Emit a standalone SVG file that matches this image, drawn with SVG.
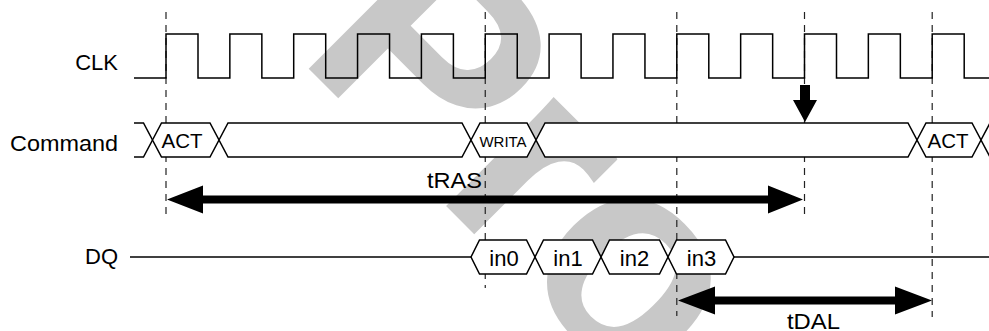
<svg xmlns="http://www.w3.org/2000/svg" width="989" height="331" viewBox="0 0 989 331">
<defs>
<style>
.lbl{font-family:"Liberation Sans",Arial,sans-serif;font-size:22px;fill:#000}
.sig{fill:none;stroke:#000;stroke-width:1.5}
.bus{fill:#fff;stroke:#000;stroke-width:1.5;stroke-linejoin:miter}
.grid{stroke:#222;stroke-width:1.2;stroke-dasharray:7 6;fill:none}
.wm{font-family:"Liberation Sans",Arial,sans-serif;font-weight:bold;font-size:290px;fill:#c8c8c8}
.arr{fill:#000;stroke:none}
</style>
</defs>
<rect width="989" height="331" fill="#fff"/>
<g id="watermark">
<text class="wm" transform="translate(295,55) rotate(45)">Pro</text>
</g>
<g id="gridlines">
<line class="grid" x1="166" y1="12" x2="166" y2="217"/>
<line class="grid" x1="485.25" y1="12" x2="485.25" y2="288"/>
<line class="grid" x1="676.8" y1="12" x2="676.8" y2="316"/>
<line class="grid" x1="804.5" y1="12" x2="804.5" y2="220"/>
<line class="grid" x1="932.2" y1="12" x2="932.2" y2="317"/>
</g>
<g id="clk">
<text class="lbl" x="118" y="70" text-anchor="end">CLK</text>
<path class="sig" d="M134,78 H166 V34 H198 V78 H229.85 V34 H261.85 V78 H293.7 V34 H325.7 V78 H357.55 V34 H389.55 V78 H421.4 V34 H453.4 V78 H485.25 V34 H517.25 V78 H549.1 V34 H581.1 V78 H612.95 V34 H644.95 V78 H676.8 V34 H708.8 V78 H740.65 V34 H772.65 V78 H804.5 V34 H836.5 V78 H868.35 V34 H900.35 V78 H932.2 V34 H964.2 V78 H995"/>
</g>
<g id="command">
<text class="lbl" x="118" y="151" text-anchor="end" textLength="108" lengthAdjust="spacingAndGlyphs">Command</text>
<path class="bus" d="M134,123 H143.5 L152.5,140 L143.5,157 H134"/>
<polygon class="bus" points="152.5,140 161.5,123 210,123 219,140 210,157 161.5,157"/>
<polygon class="bus" points="219,140 228,123 462,123 471,140 462,157 228,157"/>
<polygon class="bus" points="471,140 480,123 527,123 536,140 527,157 480,157"/>
<polygon class="bus" points="536,140 545,123 908,123 917,140 908,157 545,157"/>
<polygon class="bus" points="917,140 926,123 972,123 981,140 972,157 926,157"/>
<path class="bus" d="M995,123 H990 L981,140 L990,157 H995"/>
<text class="lbl" x="182" y="148" text-anchor="middle" font-size="20.5" style="font-size:20.5px">ACT</text>
<text class="lbl" x="503" y="147" text-anchor="middle" style="font-size:15px">WRITA</text>
<text class="lbl" x="948" y="148" text-anchor="middle" style="font-size:20.5px">ACT</text>
</g>
<g id="dq">
<text class="lbl" x="118" y="264" text-anchor="end">DQ</text>
<line class="sig" x1="130" y1="257" x2="471" y2="257" style="stroke-width:1.3"/>
<line class="sig" x1="734" y1="257" x2="995" y2="257" style="stroke-width:1.3"/>
<polygon class="bus" points="471,257 479.5,240 526.5,240 535,257 526.5,274 479.5,274"/>
<polygon class="bus" points="535,257 543.5,240 592.5,240 601,257 592.5,274 543.5,274"/>
<polygon class="bus" points="601,257 609.5,240 659.5,240 668,257 659.5,274 609.5,274"/>
<polygon class="bus" points="668,257 676.5,240 725.5,240 734,257 725.5,274 676.5,274"/>
<text class="lbl" x="504" y="266" text-anchor="middle">in0</text>
<text class="lbl" x="568" y="266" text-anchor="middle">in1</text>
<text class="lbl" x="634.5" y="266" text-anchor="middle">in2</text>
<text class="lbl" x="701.5" y="266" text-anchor="middle">in3</text>
</g>
<g id="connectors">
<g id="tRAS">
<path class="arr" d="M167,199.5 L203,185.5 L203,195.5 L768,195.5 L768,185.5 L803,199.5 L768,213.5 L768,203.5 L203,203.5 L203,213.5 Z"/>
<text class="lbl" x="427" y="188" textLength="55" lengthAdjust="spacingAndGlyphs">tRAS</text>
</g>
<g id="tDAL">
<path class="arr" d="M678,300.5 L715,286.5 L715,296.5 L895,296.5 L895,286.5 L932,300.5 L895,314.5 L895,304.5 L715,304.5 L715,314.5 Z"/>
<text class="lbl" x="787" y="329" textLength="53" lengthAdjust="spacingAndGlyphs">tDAL</text>
</g>
<path id="autoPrecharge" class="arr" d="M800,85 H810 V100 H817 L805,122 L793,100 H800 Z"/>
</g>
</svg>
